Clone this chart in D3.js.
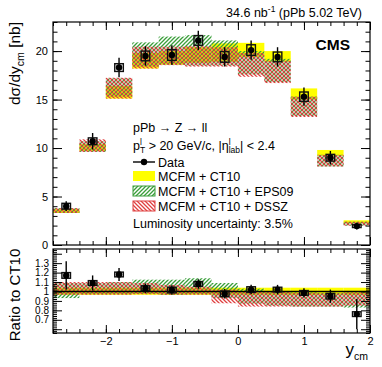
<!DOCTYPE html>
<html>
<head>
<meta charset="utf-8">
<script src="https://cdn.jsdelivr.net/npm/d3@7"></script>
<style>
  body { margin: 0; background: #fff; }
  text { font-family: "Liberation Sans", Arial, sans-serif; fill: #000; }
</style>
</head>
<body>
<script>
// bins in y_cm, width 0.4
const binLo = [-2.8, -2.4, -2.0, -1.6, -1.2, -0.8, -0.4, 0.0, 0.4, 0.8, 1.2, 1.6]
const binCenter = [-2.6, -2.2, -1.8, -1.4, -1.0, -0.6, -0.2, 0.2, 0.6, 1.0, 1.4, 1.8]

// top panel: dsigma/dy_cm [nb]
const dataXs = [4.0, 10.7, 18.3, 19.5, 19.6, 21.1, 19.4, 20.1, 19.4, 15.3, 9.0, 1.95]
const dataStat = [0.5, 0.85, 1.0, 1.0, 1.0, 1.0, 1.0, 1.0, 1.0, 0.95, 0.7, 0.35]
const dataSyst = [0.3, 0.35, 0.4, 0.5, 0.55, 0.5, 0.55, 0.55, 0.5, 0.48, 0.35, 0.15]
const ct10Lo = [3.3, 9.7, 15.1, 18.2, 18.6, 18.8, 18.9, 19.4, 18.9, 15.0, 9.2, 2.25]
const ct10Hi = [3.7, 10.4, 16.4, 19.8, 20.0, 20.4, 20.8, 20.85, 20.0, 16.15, 9.8, 2.55]
const eps09Lo = [3.3, 9.6, 15.3, 18.4, 18.6, 18.5, 18.5, 17.6, 16.8, 13.3, 8.1, 2.0]
const eps09Hi = [3.8, 10.7, 17.2, 20.9, 21.5, 21.65, 21.1, 20.0, 19.2, 15.3, 9.3, 2.4]
const dsszLo = [3.3, 9.6, 15.1, 18.2, 18.55, 18.4, 18.4, 17.35, 16.7, 13.2, 8.1, 2.0]
const dsszHi = [3.8, 10.9, 17.25, 20.45, 20.45, 20.5, 20.4, 19.8, 19.0, 15.3, 9.3, 2.4]

// bottom panel: ratio to CT10
const ratioData = [1.17, 1.09, 1.18, 1.035, 1.015, 1.08, 0.975, 1.02, 1.02, 0.985, 0.95, 0.76]
const ratioStat = [0.15, 0.08, 0.07, 0.05, 0.05, 0.05, 0.05, 0.05, 0.05, 0.05, 0.07, 0.16]
const ratioSyst = [0.03, 0.025, 0.025, 0.025, 0.03, 0.025, 0.03, 0.03, 0.025, 0.025, 0.03, 0.025]
const ct10RatLo = [0.965, 0.965, 0.965, 0.965, 0.965, 0.965, 0.965, 0.965, 0.965, 0.965, 0.965, 0.965]
const ct10RatHi = [1.04, 1.04, 1.04, 1.04, 1.04, 1.04, 1.04, 1.04, 1.04, 1.04, 1.04, 1.04]
const eps09RatLo = [0.93, 0.97, 0.97, 0.975, 0.965, 0.97, 0.93, 0.87, 0.85, 0.84, 0.84, 0.83]
const eps09RatHi = [1.09, 1.09, 1.1, 1.125, 1.125, 1.14, 1.09, 1.03, 1.0, 0.99, 0.985, 0.99]
const dsszRatLo = [0.965, 0.965, 0.965, 0.97, 0.965, 0.965, 0.875, 0.84, 0.84, 0.84, 0.84, 0.85]
const dsszRatHi = [1.1, 1.1, 1.1, 1.09, 1.07, 1.05, 1.02, 1.0, 1.0, 0.985, 0.98, 0.99]

const xMajor = [-2, -1, 0, 1, 2]
const topYMajor = [0, 5, 10, 15, 20]
const ratioLabels = [0.7, 0.8, 0.9, 1.0, 1.1, 1.2, 1.3]

// -----------------------------------------------------------------------------

const width = 382
const height = 367
const font = '"Liberation Sans", Arial, sans-serif'

const svg = d3.select('body').append('svg')
  .attr('width', width)
  .attr('height', height)

const defs = svg.append('defs')
function hatch (id, color, dir) {
  const p = defs.append('pattern')
    .attr('id', id)
    .attr('patternUnits', 'userSpaceOnUse')
    .attr('width', 4)
    .attr('height', 4)
  const d = dir === '/' ? 'M-1,1 L1,-1 M0,4 L4,0 M3,5 L5,3' : 'M-1,3 L1,5 M0,0 L4,4 M3,-1 L5,1'
  p.append('path').attr('d', d).attr('stroke', color).attr('stroke-width', 1.3)
}
hatch('greenHatch', '#3a9e3a', '/')
hatch('redHatch', '#e04040', '\\')

const x = d3.scaleLinear().domain([-2.8, 2]).range([53, 370])
const yTop = d3.scaleLinear().domain([0, 23]).range([245, 22])
const yRat = d3.scaleLinear().domain([0.56, 1.45]).range([333, 249])

const minorX = d3.range(-14, 11).map(i => i / 5)

function ticks (axisFn, scale, tx, ty, values, size) {
  const g = svg.append('g')
    .attr('transform', 'translate(' + tx + ',' + ty + ')')
    .call(axisFn(scale).tickValues(values).tickSize(size).tickFormat(''))
  g.select('.domain').remove()
  g.selectAll('line').attr('stroke', '#000')
}

function bands (yScale, lo, hi, fill) {
  svg.append('g').selectAll('rect')
    .data(binLo).enter()
    .append('rect')
    .attr('x', d => x(d))
    .attr('width', d => x(d + 0.4) - x(d))
    .attr('y', (d, i) => yScale(hi[i]))
    .attr('height', (d, i) => yScale(lo[i]) - yScale(hi[i]))
    .attr('fill', fill)
}

function points (yScale, vals, stat, syst) {
  const g = svg.append('g')
  g.selectAll('line.stat')
    .data(binCenter).enter()
    .append('line')
    .attr('x1', d => x(d)).attr('x2', d => x(d))
    .attr('y1', (d, i) => yScale(vals[i] + stat[i]))
    .attr('y2', (d, i) => yScale(vals[i] - stat[i]))
    .attr('stroke', '#000').attr('stroke-width', 1.4)
  g.selectAll('rect.syst')
    .data(binCenter).enter()
    .append('rect')
    .attr('x', d => x(d - 0.065))
    .attr('width', d => x(d + 0.065) - x(d - 0.065))
    .attr('y', (d, i) => yScale(vals[i] + syst[i]))
    .attr('height', (d, i) => yScale(vals[i] - syst[i]) - yScale(vals[i] + syst[i]))
    .attr('fill', 'none').attr('stroke', '#111').attr('stroke-width', 1.4)
  g.selectAll('circle')
    .data(binCenter).enter()
    .append('circle')
    .attr('cx', d => x(d))
    .attr('cy', (d, i) => yScale(vals[i]))
    .attr('r', 3.2)
    .attr('fill', '#000')
}

// top panel
bands(yTop, ct10Lo, ct10Hi, '#ffff00')
bands(yTop, eps09Lo, eps09Hi, 'url(#greenHatch)')
bands(yTop, dsszLo, dsszHi, 'url(#redHatch)')
points(yTop, dataXs, dataStat, dataSyst)

svg.append('rect').attr('x', 53).attr('y', 22).attr('width', 317).attr('height', 223)
  .attr('fill', 'none').attr('stroke', '#000').attr('stroke-width', 1.2)
ticks(d3.axisTop, x, 0, 245, xMajor, 8)
ticks(d3.axisTop, x, 0, 245, minorX, 4)
ticks(d3.axisBottom, x, 0, 22, xMajor, 8)
ticks(d3.axisBottom, x, 0, 22, minorX, 4)
ticks(d3.axisRight, yTop, 53, 0, topYMajor, 9)
ticks(d3.axisRight, yTop, 53, 0, d3.range(0, 24), 4.5)
ticks(d3.axisLeft, yTop, 370, 0, topYMajor, 9)
ticks(d3.axisLeft, yTop, 370, 0, d3.range(0, 24), 4.5)

const yLab = svg.append('g').attr('transform', 'translate(53,0)')
  .call(d3.axisLeft(yTop).tickValues(topYMajor).tickSize(0).tickPadding(5))
yLab.select('.domain').remove()
yLab.selectAll('text').attr('font-size', 11).attr('font-family', font)

// ratio panel
bands(yRat, ct10RatLo, ct10RatHi, '#ffff00')
bands(yRat, eps09RatLo, eps09RatHi, 'url(#greenHatch)')
bands(yRat, dsszRatLo, dsszRatHi, 'url(#redHatch)')
svg.append('line').attr('x1', x(-2.8)).attr('x2', x(2)).attr('y1', yRat(1)).attr('y2', yRat(1))
  .attr('stroke', '#000').attr('stroke-width', 1.4)
points(yRat, ratioData, ratioStat, ratioSyst)

svg.append('rect').attr('x', 53).attr('y', 249).attr('width', 317).attr('height', 84)
  .attr('fill', 'none').attr('stroke', '#000').attr('stroke-width', 1.2)
const ratMajor = d3.range(6, 15).map(i => i / 10)
const ratMinor = d3.range(28, 73).map(i => i / 50)
ticks(d3.axisTop, x, 0, 333, xMajor, 8)
ticks(d3.axisTop, x, 0, 333, minorX, 4)
ticks(d3.axisBottom, x, 0, 249, xMajor, 8)
ticks(d3.axisBottom, x, 0, 249, minorX, 4)
ticks(d3.axisRight, yRat, 53, 0, ratMajor, 9)
ticks(d3.axisRight, yRat, 53, 0, ratMinor, 4)
ticks(d3.axisLeft, yRat, 370, 0, ratMajor, 9)
ticks(d3.axisLeft, yRat, 370, 0, ratMinor, 4)

const rLab = svg.append('g').attr('transform', 'translate(53,0)')
  .call(d3.axisLeft(yRat).tickValues(ratioLabels).tickSize(0).tickPadding(4).tickFormat(d3.format('~g')))
rLab.select('.domain').remove()
rLab.selectAll('text').attr('font-size', 10).attr('font-family', font)

const xLab = svg.append('g').attr('transform', 'translate(0,333)')
  .call(d3.axisBottom(x).tickValues(xMajor).tickSize(0).tickPadding(4).tickFormat(d3.format('d')))
xLab.select('.domain').remove()
xLab.selectAll('text').attr('font-size', 11).attr('font-family', font)

// text with sub/superscripts, pieces placed one after another
function rich (parts, transform, anchor) {
  const g = svg.append('g')
  const inner = g.append('g')
  let cx = 0
  let holdW = 0
  parts.forEach(p => {
    const t = inner.append('text')
      .attr('x', cx)
      .attr('y', p.dy || 0)
      .attr('font-size', p.size)
      .attr('font-weight', p.bold ? 'bold' : null)
      .style('white-space', 'pre')
      .text(p.t)
    const w = t.node().getComputedTextLength()
    if (p.hold) {
      holdW = w
    } else {
      cx += Math.max(w, holdW)
      holdW = 0
    }
  })
  const shift = anchor === 'end' ? -cx : anchor === 'middle' ? -cx / 2 : 0
  inner.attr('transform', 'translate(' + shift + ',0)')
  g.attr('transform', transform)
}

rich([{t: 'dσ/dy', size: 15.5}, {t: 'cm', size: 10.5, dy: 4}, {t: ' [nb]', size: 15.5}],
  'translate(20,22) rotate(-90)', 'end')
rich([{t: 'Ratio to CT10', size: 15}], 'translate(20,295) rotate(-90)', 'middle')
rich([{t: 'y', size: 17}, {t: 'cm', size: 10.5, dy: 5}], 'translate(368,355)', 'end')
rich([{t: '34.6 nb', size: 12.5}, {t: '-1', size: 8.5, dy: -5}, {t: ' (pPb 5.02 TeV)', size: 12.5}],
  'translate(362,17)', 'end')
rich([{t: 'CMS', size: 15.5, bold: true}], 'translate(350,50)', 'end')

// legend
const lx = 133
rich([{t: 'pPb → Z → ll', size: 12.5}], 'translate(' + lx + ',132)')
rich([{t: 'p', size: 12.5}, {t: 'l', size: 8.5, dy: -5, hold: true}, {t: 'T', size: 8.5, dy: 3},
  {t: ' > 20 GeV/c, |η', size: 12.5}, {t: 'l', size: 8.5, dy: -5, hold: true}, {t: 'lab', size: 8.5, dy: 3},
  {t: '| < 2.4', size: 12.5}], 'translate(' + lx + ',150)')

svg.append('line').attr('x1', lx).attr('x2', lx + 22).attr('y1', 162).attr('y2', 162)
  .attr('stroke', '#000').attr('stroke-width', 1.4)
svg.append('circle').attr('cx', lx + 11).attr('cy', 162).attr('r', 3.2).attr('fill', '#000')
rich([{t: 'Data', size: 12.5}], 'translate(158,166.5)')

const legBoxes = [
  {fill: '#ffff00', stroke: 'none', y: 171, label: 'MCFM + CT10'},
  {fill: 'url(#greenHatch)', stroke: '#3a9e3a', y: 186, label: 'MCFM + CT10 + EPS09'},
  {fill: 'url(#redHatch)', stroke: '#e04040', y: 201, label: 'MCFM + CT10 + DSSZ'}
]
legBoxes.forEach(b => {
  svg.append('rect').attr('x', lx).attr('y', b.y).attr('width', 22).attr('height', 10)
    .attr('fill', b.fill).attr('stroke', b.stroke)
  rich([{t: b.label, size: 12.5}], 'translate(158,' + (b.y + 9.5) + ')')
})
rich([{t: 'Luminosity uncertainty: 3.5%', size: 12.5}], 'translate(' + lx + ',228)')
</script>
</body>
</html>
